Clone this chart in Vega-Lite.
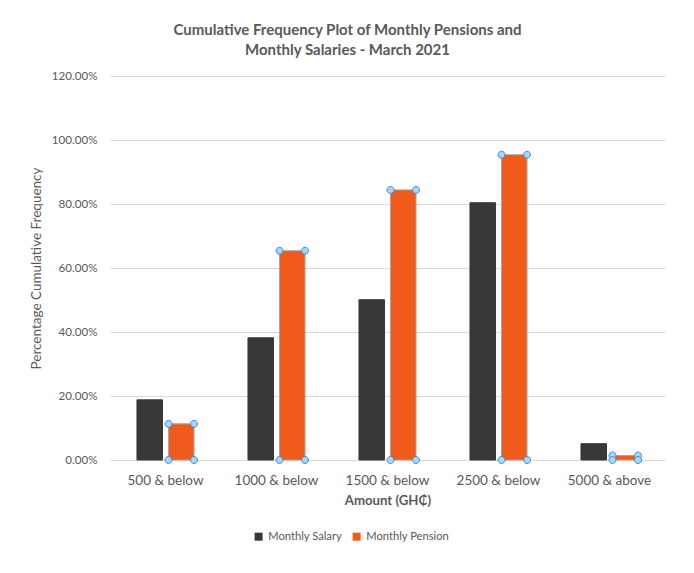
{
  "$schema": "https://vega.github.io/schema/vega-lite/v6.json",
  "autosize": "none",
  "width": 555,
  "height": 384,
  "padding": {"left": 110, "top": 76, "right": 29, "bottom": 113},
  "background": "white",
  "title": {
    "text": ["Cumulative Frequency Plot of Monthly Pensions and", "Monthly Salaries - March 2021"],
    "anchor": "middle",
    "dx": -40,
    "offset": 12,
    "font": "Lato",
    "fontSize": 15,
    "fontWeight": "bold",
    "color": "#595959",
    "lineHeight": 20
  },
  "data": {
    "values": [
      {"amount": "500 & below", "series": "Monthly Salary", "value": 0.188},
      {"amount": "1000 & below", "series": "Monthly Salary", "value": 0.382},
      {"amount": "1500 & below", "series": "Monthly Salary", "value": 0.501},
      {"amount": "2500 & below", "series": "Monthly Salary", "value": 0.804},
      {"amount": "5000 & above", "series": "Monthly Salary", "value": 0.051},
      {"amount": "500 & below", "series": "Monthly Pension", "value": 0.113},
      {"amount": "1000 & below", "series": "Monthly Pension", "value": 0.654},
      {"amount": "1500 & below", "series": "Monthly Pension", "value": 0.844},
      {"amount": "2500 & below", "series": "Monthly Pension", "value": 0.954},
      {"amount": "5000 & above", "series": "Monthly Pension", "value": 0.014}
    ]
  },
  "encoding": {
    "x": {
      "field": "amount",
      "type": "nominal",
      "sort": null,
      "scale": {"paddingInner": 0.486, "paddingOuter": 0.243},
      "axis": {
        "title": "Amount (GH₵)",
        "labelAngle": 0,
        "ticks": false,
        "domain": false,
        "labelPadding": 13,
        "titlePadding": 8,
        "labelFont": "Lato",
        "labelFontSize": 13.5,
        "labelColor": "#595959",
        "titleFont": "Lato",
        "titleFontSize": 13.2,
        "titleFontWeight": "bold",
        "titleColor": "#595959"
      }
    },
    "xOffset": {
      "field": "series",
      "type": "nominal",
      "sort": ["Monthly Salary", "Monthly Pension"],
      "scale": {"paddingInner": 0.19, "paddingOuter": 0}
    },
    "y": {
      "field": "value",
      "type": "quantitative",
      "scale": {"domain": [0, 1.2]},
      "axis": {
        "title": "Percentage Cumulative Frequency",
        "format": ".2%",
        "values": [0, 0.2, 0.4, 0.6, 0.8, 1.0, 1.2],
        "ticks": false,
        "domain": false,
        "gridColor": "#d9d9d9",
        "labelPadding": 13,
        "titlePadding": 8,
        "labelFont": "Lato",
        "labelFontSize": 11.6,
        "labelColor": "#595959",
        "titleFont": "Lato",
        "titleFontSize": 13.5,
        "titleFontWeight": "normal",
        "titleColor": "#595959"
      }
    }
  },
  "layer": [
    {
      "mark": {"type": "bar"},
      "encoding": {
        "color": {
          "field": "series",
          "type": "nominal",
          "scale": {"domain": ["Monthly Salary", "Monthly Pension"], "range": ["#3a3836", "#f05a1a"]},
          "legend": {
            "title": null,
            "orient": "none",
            "direction": "horizontal",
            "legendX": 143,
            "legendY": 455,
            "symbolType": "square",
            "symbolSize": 64,
            "symbolStrokeWidth": 0,
            "labelFont": "Lato",
            "labelFontSize": 11.2,
            "labelColor": "#595959",
            "columnPadding": 8
          }
        },
        "stroke": {
          "field": "series",
          "type": "nominal",
          "scale": {"domain": ["Monthly Salary", "Monthly Pension"], "range": ["#3a3836", "#a6a6a6"]},
          "legend": null
        }
      }
    },
    {
      "transform": [{"filter": "datum.series === 'Monthly Pension'"}],
      "mark": {"type": "point", "shape": "M -9.27 0 A 3.5 3.5 0 1 0 -16.27 0 A 3.5 3.5 0 1 0 -9.27 0 Z M 16.27 0 A 3.5 3.5 0 1 0 9.27 0 A 3.5 3.5 0 1 0 16.27 0 Z", "filled": true, "size": 4, "fill": "#a9d4f5", "stroke": "#3c8fdd", "strokeWidth": 1, "opacity": 1}
    },
    {
      "transform": [{"filter": "datum.series === 'Monthly Pension'"}],
      "mark": {"type": "point", "shape": "M -9.27 0 A 3.5 3.5 0 1 0 -16.27 0 A 3.5 3.5 0 1 0 -9.27 0 Z M 16.27 0 A 3.5 3.5 0 1 0 9.27 0 A 3.5 3.5 0 1 0 16.27 0 Z", "filled": true, "size": 4, "fill": "#a9d4f5", "stroke": "#3c8fdd", "strokeWidth": 1, "opacity": 1},
      "encoding": {"y": {"datum": 0, "type": "quantitative"}}
    }
  ],
  "config": {
    "view": {"stroke": null}
  }
}
